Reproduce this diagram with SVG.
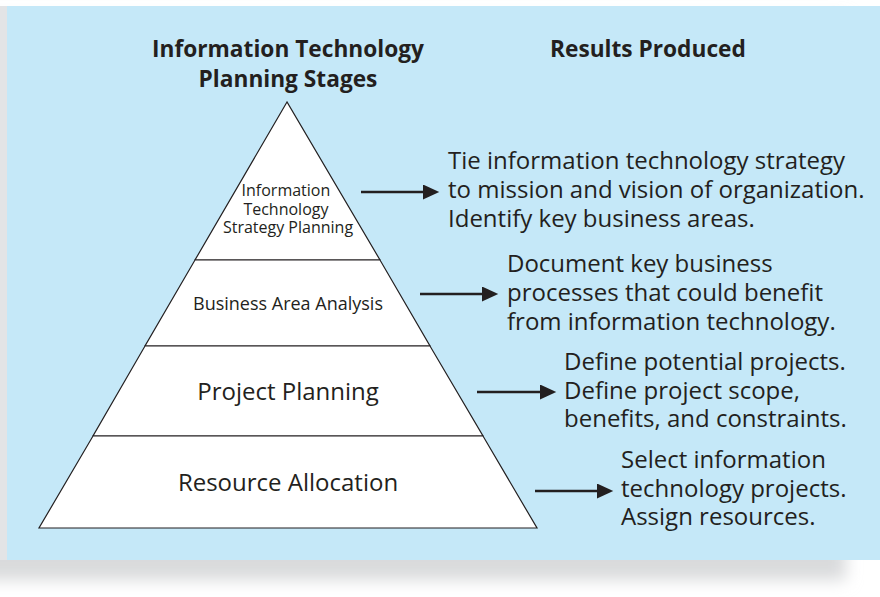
<svg xmlns="http://www.w3.org/2000/svg" width="880" height="597" viewBox="0 0 880 597">
  <defs>
    <filter id="shadow" x="-10%" y="-10%" width="120%" height="120%">
      <feGaussianBlur stdDeviation="8"/>
    </filter>
    <marker id="arrow" markerWidth="8" markerHeight="6" refX="0" refY="3" orient="auto" markerUnits="strokeWidth">
      <path d="M0,0 L6.5,3 L0,6 Z" fill="#231f20"/>
    </marker>
  </defs>
  <style>
    .txt { font-family: "Open Sans", "Noto Sans", "DejaVu Sans", sans-serif; fill: #231f20; }
    .title { font-weight: bold; font-size: 22.7px; }
    .result { font-size: 24px; }
    .tier { fill: #ffffff; stroke: #231f20; stroke-width: 1.2; }
    .conn { stroke: #231f20; stroke-width: 2.5; fill: none; marker-end: url(#arrow); }
  </style>
  <rect x="0" y="0" width="880" height="597" fill="#ffffff"/>
  <rect x="-20" y="18" width="866" height="562" fill="#d9dadc" filter="url(#shadow)"/>
  <rect x="0" y="6" width="7" height="554" fill="#e3e4e6"/>
  <rect x="7" y="6" width="873" height="554" fill="#c5e8f8"/>

  <g id="headers">
    <text class="txt title" x="288" y="57" text-anchor="middle">Information Technology</text>
    <text class="txt title" x="288" y="87" text-anchor="middle">Planning Stages</text>
    <text class="txt title" x="550" y="57">Results Produced</text>
  </g>

  <g id="stage-strategy">
    <path class="tier" d="M287,102 L195,260 L380,260 Z"/>
    <text class="txt" font-size="16" text-anchor="middle">
      <tspan x="288" y="196">Information</tspan>
      <tspan x="288" y="214.5">Technology</tspan>
      <tspan x="288" y="233">Strategy Planning</tspan>
    </text>
  </g>
  <g id="stage-business">
    <path class="tier" d="M195,260 L380,260 L430,346 L145,346 Z"/>
    <text class="txt" font-size="18" x="288" y="310" text-anchor="middle">Business Area Analysis</text>
  </g>
  <g id="stage-project">
    <path class="tier" d="M145,346 L430,346 L483,436 L93,436 Z"/>
    <text class="txt" font-size="24" x="288" y="400" text-anchor="middle">Project Planning</text>
  </g>
  <g id="stage-resource">
    <path class="tier" d="M93,436 L483,436 L537,528 L39,528 Z"/>
    <text class="txt" font-size="24" x="288" y="491" text-anchor="middle">Resource Allocation</text>
  </g>

  <g id="result-strategy">
    <text class="txt result">
      <tspan x="448" y="169">Tie information technology strategy</tspan>
      <tspan x="448" y="198">to mission and vision of organization.</tspan>
      <tspan x="448" y="227">Identify key business areas.</tspan>
    </text>
  </g>
  <g id="result-business">
    <text class="txt result">
      <tspan x="507" y="272">Document key business</tspan>
      <tspan x="507" y="301">processes that could benefit</tspan>
      <tspan x="507" y="330">from information technology.</tspan>
    </text>
  </g>
  <g id="result-project">
    <text class="txt result">
      <tspan x="564" y="370">Define potential projects.</tspan>
      <tspan x="564" y="399">Define project scope,</tspan>
      <tspan x="564" y="427">benefits, and constraints.</tspan>
    </text>
  </g>
  <g id="result-resource">
    <text class="txt result">
      <tspan x="621" y="468">Select information</tspan>
      <tspan x="621" y="497">technology projects.</tspan>
      <tspan x="621" y="525">Assign resources.</tspan>
    </text>
  </g>

  <g id="connectors">
    <line class="conn" x1="361" y1="192" x2="423" y2="192"/>
    <line class="conn" x1="420" y1="294" x2="482" y2="294"/>
    <line class="conn" x1="477" y1="392" x2="540" y2="392"/>
    <line class="conn" x1="535" y1="491" x2="597" y2="491"/>
  </g>
</svg>
